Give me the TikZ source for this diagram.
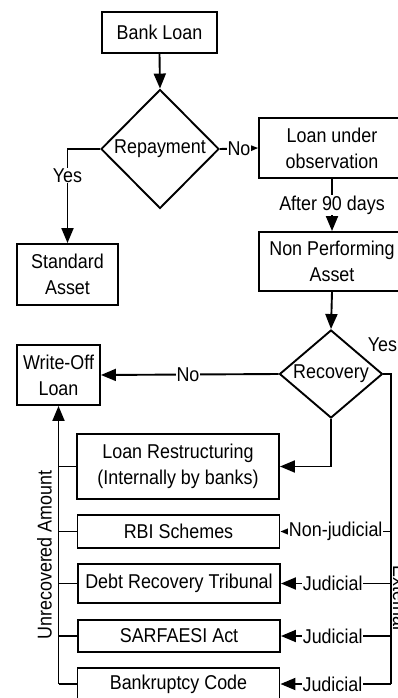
\documentclass[tikz,border=0pt]{standalone}
\usepackage{fontspec}
\setmainfont[FakeStretch=0.895]{Liberation Sans}
\usetikzlibrary{shapes.geometric,arrows.meta,calc}
\begin{document}
\begin{tikzpicture}[x=1pt,y=-1pt,
  every node/.style={font=\fontsize{20}{26}\selectfont},
  box/.style={draw,line width=1.9pt,inner sep=0pt,align=center},
  dia/.style={draw,diamond,line width=1.9pt,inner sep=0pt},
  lbl/.style={fill=white,inner sep=0.5pt},
  con/.style={line width=1.9pt},
  arr/.style={con,-{Triangle[length=15pt,width=12pt]}}]
\useasboundingbox (0,0) rectangle (397,698);
\node[box,minimum width=115pt,minimum height=41pt] (bank) at (159.5,32.5) {Bank Loan};
\node[dia,minimum width=118pt,minimum height=119pt] (rep) at (160,149) {Repayment};
\node[box,minimum width=146pt,minimum height=60pt] (lobs) at (332,148) {Loan under\\observation};
\node[box,minimum width=146pt,minimum height=59pt] (npa) at (332,261.5) {Non Performing\\Asset};
\node[box,minimum width=101pt,minimum height=61pt] (std) at (67.5,274.5) {Standard\\Asset};
\node[dia,aspect=1.17,minimum width=103pt,minimum height=88pt] (rec) at (331,374) {Recovery};
\node[box,minimum width=83pt,minimum height=60pt] (wo) at (58.5,375) {Write-Off\\Loan};
\node[box,minimum width=202pt,minimum height=65pt] (lr) at (178,466.5) {Loan Restructuring\\(Internally by banks)};
\node[box,minimum width=202pt,minimum height=33pt] (rbi) at (178.5,531.5) {RBI Schemes};
\node[box,minimum width=202pt,minimum height=39pt] (drt) at (179,583.5) {Debt Recovery Tribunal};
\node[box,minimum width=202pt,minimum height=32pt] (sar) at (179,636) {SARFAESI Act};
\node[box,minimum width=202pt,minimum height=32pt] (bc) at (178.5,684) {Bankruptcy Code};
% top part
\draw[arr] (bank.south) -- (rep.north);
\draw[arr] (rep.west) -| node[lbl,pos=0.64] {Yes} (std.north);
\draw[arr] (rep.east) -- node[lbl] {No} (lobs.west);
\draw[arr] (lobs.south) -- node[lbl,pos=0.5] {After 90 days} (npa.north);
\draw[arr] (npa.south) -- (rec.north);
\draw[arr] (rec.west) -- node[lbl,pos=0.51] {No} (wo.east);
\draw[arr] (rec.south) |- (lr.east);
\node (yes) at ($(rec.east)+(-1,-29)$) {Yes};
% right bus
\coordinate (e4) at (391,684);
\coordinate (e1) at (e4 |- rbi.east);
\coordinate (e2) at (e4 |- drt.east);
\coordinate (e3) at (e4 |- sar.east);
\draw[con] (rec.east) -| (e4);
\draw[arr] (e4) -- node[lbl,pos=0.53] {Judicial} (bc.east);
\draw[arr] (e1) -- node[lbl,pos=0.5] {Non-judicial} (rbi.east);
\draw[arr] (e2) -- node[lbl,pos=0.53] {Judicial} (drt.east);
\draw[arr] (e3) -- node[lbl,pos=0.53] {Judicial} (sar.east);
\node[rotate=-90,anchor=base west,inner sep=0pt] (ext) at (393,565) {External};
% left bus
\coordinate (l4) at (wo.south |- bc.west);
\draw[con] (bc.west) -- (l4);
\draw[arr] (l4) -- (wo.south);
\draw[con] (wo.south |- lr.west) -- (lr.west);
\draw[con] (wo.south |- rbi.west) -- (rbi.west);
\draw[con] (wo.south |- drt.west) -- (drt.west);
\draw[con] (wo.south |- sar.west) -- (sar.west);
\node[rotate=90,inner sep=0pt] (unrec) at (44.5,555) {Unrecovered Amount};
\end{tikzpicture}
\end{document}
